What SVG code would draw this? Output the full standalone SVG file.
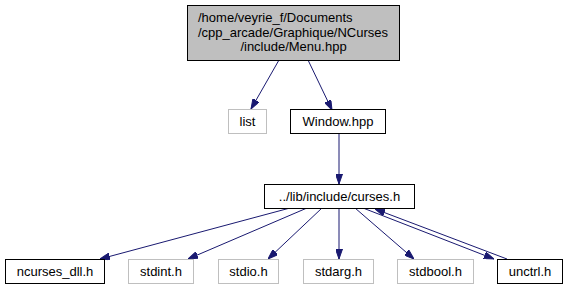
<svg xmlns="http://www.w3.org/2000/svg" width="567" height="291" viewBox="0 0 567 291">
  <style>
    .node rect { stroke-width: 1; }
    .main rect { fill: #bfbfbf; stroke: #000000; }
    .doc rect { fill: #ffffff; stroke: #000000; }
    .sys rect { fill: #ffffff; stroke: #bfbfbf; }
    text { font-family: "Liberation Sans", Arial, sans-serif; font-size: 13px; fill: #000000; text-anchor: middle; }
    text.left { text-anchor: start; }
    .edges line { stroke: #191970; stroke-width: 1; fill: none; }
  </style>
  <defs>
    <marker id="arrow" viewBox="0 0 10 7" refX="10" refY="3.5" markerWidth="10" markerHeight="7" markerUnits="userSpaceOnUse" orient="auto">
      <path d="M0,0 L10,3.5 L0,7 Z" fill="#191970" stroke="#191970"/>
    </marker>
  </defs>

  <!-- include edges -->
  <g class="edges">
    <line x1="279" y1="60" x2="251" y2="109" marker-end="url(#arrow)"/>
    <line x1="308" y1="60" x2="332" y2="110" marker-end="url(#arrow)"/>
    <line x1="339" y1="133" x2="339" y2="184" marker-end="url(#arrow)"/>
    <line x1="290" y1="208" x2="100" y2="259" marker-end="url(#arrow)"/>
    <line x1="307" y1="208" x2="188" y2="259" marker-end="url(#arrow)"/>
    <line x1="322" y1="208" x2="268" y2="259" marker-end="url(#arrow)"/>
    <line x1="339" y1="208" x2="339" y2="259" marker-end="url(#arrow)"/>
    <line x1="355" y1="208" x2="414" y2="259" marker-end="url(#arrow)"/>
    <line x1="363" y1="208" x2="494" y2="259" marker-end="url(#arrow)"/>
    <line x1="507" y1="259" x2="375" y2="209" marker-end="url(#arrow)"/>
  </g>

  <g id="node1" class="node main">
    <rect x="187.5" y="5.5" width="212" height="55"/>
    <text class="left" x="198" y="22">/home/veyrie_f/Documents</text>
    <text class="left" x="198" y="36.5">/cpp_arcade/Graphique/NCurses</text>
    <text x="293.5" y="51">/include/Menu.hpp</text>
  </g>

  <g id="node2" class="node sys">
    <rect x="228.5" y="109.5" width="38" height="24"/>
    <text x="247.5" y="126">list</text>
  </g>

  <g id="node3" class="node doc">
    <rect x="290.5" y="109.5" width="95" height="24"/>
    <text x="338" y="126">Window.hpp</text>
  </g>

  <g id="node4" class="node doc">
    <rect x="264.5" y="184.5" width="150" height="24"/>
    <text x="339.5" y="201">../lib/include/curses.h</text>
  </g>

  <g id="node5" class="node doc">
    <rect x="5.5" y="259.5" width="99" height="24"/>
    <text x="55" y="276">ncurses_dll.h</text>
  </g>

  <g id="node6" class="node sys">
    <rect x="128.5" y="259.5" width="65" height="24"/>
    <text x="161" y="276">stdint.h</text>
  </g>

  <g id="node7" class="node sys">
    <rect x="218.5" y="259.5" width="60" height="24"/>
    <text x="248.5" y="276">stdio.h</text>
  </g>

  <g id="node8" class="node sys">
    <rect x="303.5" y="259.5" width="70" height="24"/>
    <text x="338.5" y="276">stdarg.h</text>
  </g>

  <g id="node9" class="node sys">
    <rect x="397.5" y="259.5" width="76" height="24"/>
    <text x="435.5" y="276">stdbool.h</text>
  </g>

  <g id="node10" class="node doc">
    <rect x="497.5" y="259.5" width="65" height="24"/>
    <text x="530" y="276">unctrl.h</text>
  </g>
</svg>
